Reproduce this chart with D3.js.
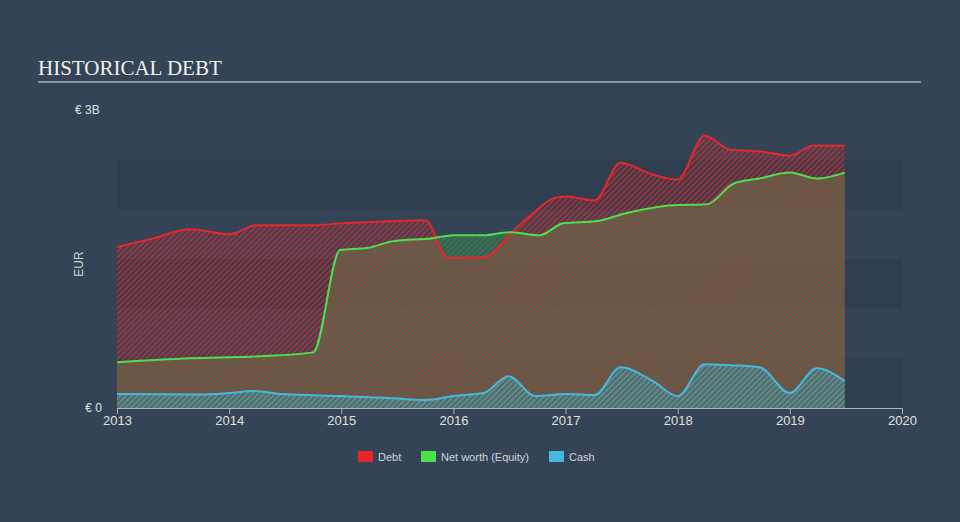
<!DOCTYPE html>
<html><head><meta charset="utf-8">
<script src="https://cdn.jsdelivr.net/npm/d3@7"></script>
<style>
html,body{margin:0;padding:0;background:#344456;}
svg{display:block;font-family:"Liberation Sans",Arial,sans-serif;}
</style></head>
<body>
<svg id="chart" width="960" height="522"></svg>
<script>
const debtDates = [2013.0, 2013.3, 2013.65, 2014.0, 2014.25, 2014.75, 2015.0, 2015.43, 2015.75, 2015.95, 2016.27, 2016.53, 2016.71, 2016.89, 2017.01, 2017.26, 2017.49, 2017.78, 2018.0, 2018.24, 2018.47, 2018.76, 2019.0, 2019.21, 2019.49];
const debtValues = [1.62, 1.70, 1.80, 1.75, 1.84, 1.84, 1.86, 1.88, 1.89, 1.51, 1.52, 1.78, 1.96, 2.11, 2.13, 2.09, 2.47, 2.35, 2.30, 2.74, 2.60, 2.58, 2.54, 2.64, 2.64];
const equityDates = [2013.0, 2013.65, 2014.25, 2014.75, 2014.99, 2015.23, 2015.46, 2015.82, 2016.0, 2016.27, 2016.5, 2016.77, 2016.98, 2017.27, 2017.54, 2017.96, 2018.26, 2018.5, 2018.73, 2019.0, 2019.24, 2019.49];
const equityValues = [0.46, 0.50, 0.52, 0.56, 1.59, 1.61, 1.68, 1.71, 1.74, 1.74, 1.77, 1.74, 1.86, 1.88, 1.96, 2.04, 2.05, 2.26, 2.31, 2.37, 2.31, 2.37];
const cashDates = [2013.0, 2013.74, 2014.0, 2014.22, 2014.48, 2014.99, 2015.43, 2015.76, 2016.0, 2016.27, 2016.49, 2016.73, 2017.01, 2017.26, 2017.49, 2017.78, 2018.0, 2018.24, 2018.47, 2018.73, 2019.0, 2019.24, 2019.49];
const cashValues = [0.14, 0.135, 0.15, 0.17, 0.14, 0.12, 0.10, 0.08, 0.12, 0.15, 0.32, 0.12, 0.14, 0.13, 0.41, 0.27, 0.12, 0.44, 0.43, 0.41, 0.15, 0.40, 0.27];
const xTicks = [2013, 2014, 2015, 2016, 2017, 2018, 2019, 2020];
const bandStarts = [0, 1, 2];
const legendItems = ["Debt", "Net worth (Equity)", "Cash"];
const legendColors = ["#e8262a", "#4de04d", "#46b8de"];

const svg = d3.select("#chart");
const x = d3.scaleLinear().domain([2013, 2020]).range([117, 902]);
const y = d3.scaleLinear().domain([0, 3]).range([408, 110]);

svg.selectAll("rect.band").data(bandStarts).enter().append("rect")
  .attr("x", x(2013)).attr("width", x(2020) - x(2013))
  .attr("y", d => y(d + 0.5)).attr("height", d => y(d) - y(d + 0.5))
  .attr("fill", "#2e3c4d").attr("opacity", 0.75);

const defs = svg.append("defs");
function pat(id, color, op, off) {
  const p = defs.append("pattern").attr("id", id).attr("patternUnits", "userSpaceOnUse")
    .attr("width", 4).attr("height", 4).attr("patternTransform", "rotate(45)");
  p.append("rect").attr("x", off).attr("y", 0).attr("width", 2).attr("height", 4)
    .attr("fill", color).attr("opacity", op);
}
pat("pDebt", "#e8262a", 0.6, 0);
pat("pEq", "#4de04d", 0.14, 2);
pat("pCash", "#46b8de", 0.5, 0);

const curve = d3.curveMonotoneX;
function series(dates, vals) { return dates.map((d, i) => ({d, v: vals[i]})); }
const debt = series(debtDates, debtValues);
const eq = series(equityDates, equityValues);
const cash = series(cashDates, cashValues);

const area = d3.area().x(p => x(p.d)).y0(y(0)).y1(p => y(p.v)).curve(curve);
const line = d3.line().x(p => x(p.d)).y(p => y(p.v)).curve(curve);

svg.append("path").attr("d", area(eq)).attr("fill", "#3c7354").attr("opacity", 0.6);
svg.append("path").attr("d", area(debt)).attr("fill", "url(#pDebt)");
svg.append("path").attr("d", area(eq)).attr("fill", "url(#pEq)");
svg.append("path").attr("d", area(cash)).attr("fill", "url(#pCash)");
svg.append("path").attr("d", area(cash)).attr("fill", "#46b8de").attr("opacity", 0.12);

svg.append("path").attr("d", line(debt)).attr("fill", "none").attr("stroke", "#e8262a").attr("stroke-width", 2);
svg.append("path").attr("d", line(eq)).attr("fill", "none").attr("stroke", "#4de04d").attr("stroke-width", 2);
svg.append("path").attr("d", line(cash)).attr("fill", "none").attr("stroke", "#46b8de").attr("stroke-width", 2);

const ax = svg.append("g").attr("transform", `translate(0,${y(0)})`)
  .call(d3.axisBottom(x).tickValues(xTicks).tickFormat(d3.format("d")).tickSize(6).tickSizeOuter(0));
ax.select(".domain").attr("stroke", "#a9b3bf");
ax.selectAll(".tick line").attr("stroke", "#a9b3bf");
ax.selectAll(".tick text").attr("fill", "#e0e0e0").attr("font-size", 13).attr("dy", "0.6em")
  .attr("font-family", "'Liberation Sans',Arial,sans-serif");

svg.append("text").attr("x", 75).attr("y", y(3) + 4).attr("fill", "#e0e0e0").attr("font-size", 12).text("€ 3B");
svg.append("text").attr("x", 102).attr("y", y(0) + 4).attr("text-anchor", "end").attr("fill", "#e0e0e0").attr("font-size", 12).text("€ 0");
svg.append("text").attr("transform", `translate(83,${y(1.45)}) rotate(-90)`).attr("text-anchor", "middle")
  .attr("fill", "#d0d4d8").attr("font-size", 12).text("EUR");

svg.append("text").attr("x", 38).attr("y", 75).attr("fill", "#f0f0f0")
  .attr("font-family", "'Liberation Serif','Times New Roman',serif").attr("font-size", 21).text("HISTORICAL DEBT");
svg.append("line").attr("x1", 38).attr("x2", 921).attr("y1", 82).attr("y2", 82).attr("stroke", "#a9b3bf").attr("stroke-width", 1.5);

const lx = [358, 421, 549];
const lg = svg.selectAll("g.leg").data(legendItems).enter().append("g").attr("transform", (d, i) => `translate(${lx[i]},451)`);
lg.append("rect").attr("width", 15).attr("height", 11).attr("fill", (d, i) => legendColors[i]);
lg.append("text").attr("x", 20).attr("y", 9.5).attr("fill", "#d0d4d8").attr("font-size", 11).text(d => d);
</script>
</body></html>
